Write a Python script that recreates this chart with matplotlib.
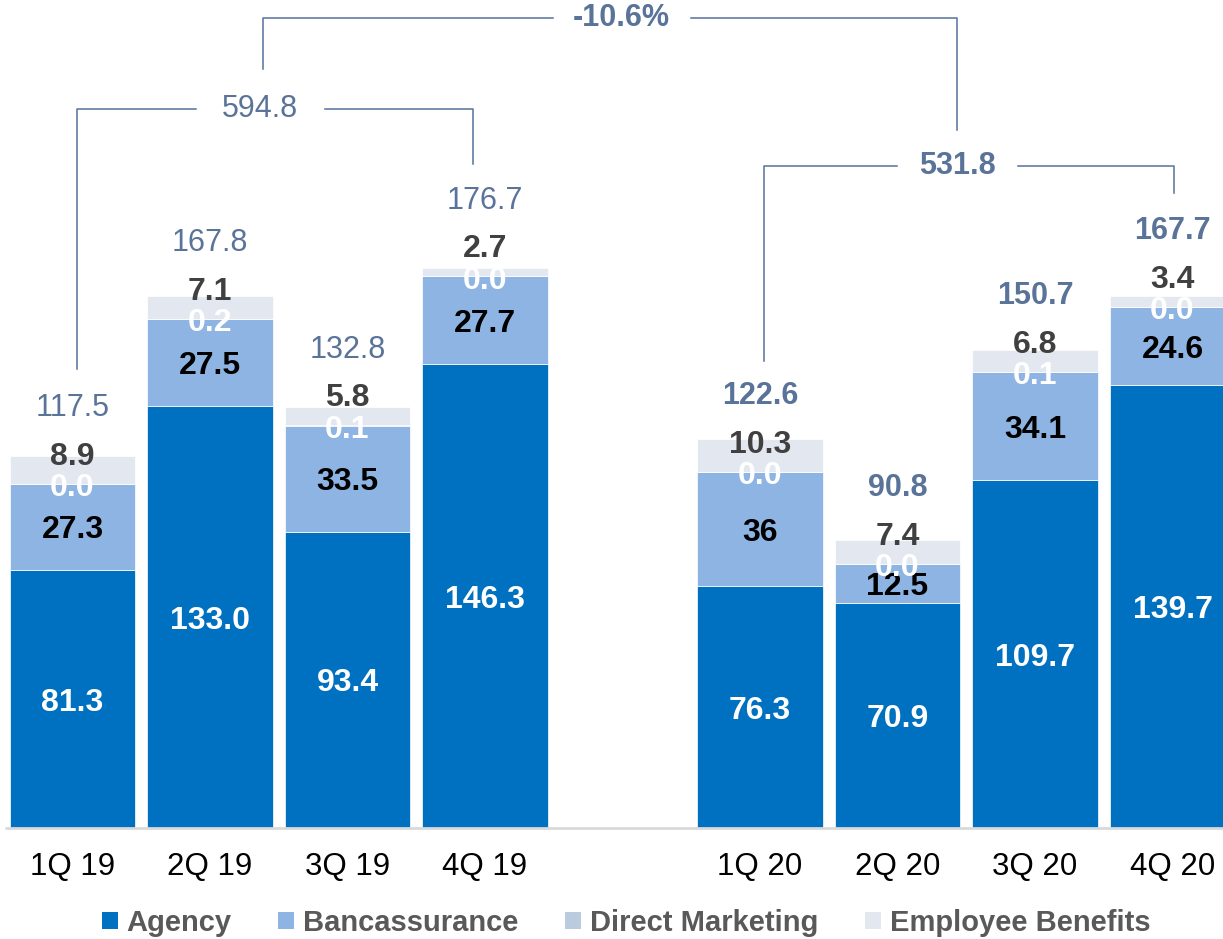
import numpy as np
import matplotlib
matplotlib.use('Agg')
import matplotlib.pyplot as plt
from matplotlib.patches import Patch

plt.rcParams['font.family'] = ['Liberation Sans', 'DejaVu Sans']

# quarterly premium by channel
quarters = ['1Q 19', '2Q 19', '3Q 19', '4Q 19', '1Q 20', '2Q 20', '3Q 20', '4Q 20']
agency = [81.3, 133.0, 93.4, 146.3, 76.3, 70.9, 109.7, 139.7]
banca = [27.3, 27.5, 33.5, 27.7, 36, 12.5, 34.1, 24.6]
direct = [0.0, 0.2, 0.1, 0.0, 0.0, 0.0, 0.1, 0.0]
employee = [8.9, 7.1, 5.8, 2.7, 10.3, 7.4, 6.8, 3.4]

channels = ['Agency', 'Bancassurance', 'Direct Marketing', 'Employee Benefits']
colors = ['#0070C0', '#8EB4E3', '#BACADF', '#E2E7F0']

xpos = np.array([0, 1, 2, 3, 5, 6, 7, 8])
a = np.array(agency)
b = np.array(banca)
d = np.array(direct)
e = np.array(employee)
totals = a + b + d + e
sum19 = totals[:4].sum()
sum20 = totals[4:].sum()
change = (sum20 / sum19 - 1) * 100

blue_txt = '#5A7399'
line_col = '#56729C'

fig = plt.figure(figsize=(12.23, 9.39), dpi=100)
ax = fig.add_axes([0, 111 / 939, 1, 828 / 939])
ax.set_xlim(-0.527, 8.367)
ax.set_ylim(0, 261.2)

w = 0.91
bottom = np.zeros(len(xpos))
for vals, c in zip([a, b, d, e], colors):
    ax.bar(xpos, vals, w, bottom=bottom, color=c, edgecolor='white', linewidth=0.5)
    bottom += vals

lbl = dict(textcoords='offset points', ha='center', va='center', fontsize=23, fontweight='bold')
for i, x in enumerate(xpos):
    ax.annotate(f'{a[i]:.1f}', (x, a[i] / 2), xytext=(0, -2.5), color='white', **lbl)
    ax.annotate(f'{b[i]:g}', (x, a[i] + b[i] / 2), xytext=(0, -2.5), color='black', **lbl)
    top_b = a[i] + b[i] + d[i]
    ax.annotate(f'{d[i]:.1f}', (x, top_b), xytext=(0, -3), color='white', **lbl)
    ax.annotate(f'{e[i]:.1f}', (x, top_b), xytext=(0, 19.5), color='#404040', **lbl)
    ax.annotate(f'{totals[i]:.1f}', (x, top_b), xytext=(0, 54.5), textcoords='offset points',
                ha='center', va='center', fontsize=22, color=blue_txt,
                fontweight='bold' if i >= 4 else 'normal')

# baseline
ax.hlines(0, -0.49, 8.4, color='#D9D9D9', lw=2, clip_on=False, zorder=3)


def bracket(x0, x1, y, yb0, yb1, gap, xt, text, bold):
    kw = dict(color=line_col, lw=1.1, clip_on=False)
    ax.plot([x0, x0, gap[0]], [yb0, y, y], **kw)
    ax.plot([gap[1], x1, x1], [y, y, yb1], **kw)
    ax.text(xt, y, text, ha='center', va='center', fontsize=22, color=blue_txt,
            fontweight='bold' if bold else 'normal')


bracket(0.033, 2.913, 226.8, 144.8, 209.5, (0.898, 1.836), 1.364, f'{sum19:.1f}', False)
bracket(5.029, 8.011, 208.8, 147.3, 200.3, (5.996, 6.876), 6.433, f'{sum20:.1f}', True)
bracket(1.385, 6.433, 255.5, 239.4, 220.2, (3.495, 4.498), 3.989, f'{change:.1f}%', True)

ax.set_xticks(xpos)
ax.set_xticklabels(quarters, fontsize=22.5)
ax.tick_params(axis='x', length=0, pad=17)
ax.set_yticks([])
for s in ax.spines.values():
    s.set_visible(False)

handles = [Patch(facecolor=c, edgecolor='none') for c in colors]
fig.legend(handles, channels, loc='center', bbox_to_anchor=(0.512, 1 - 923 / 939),
           ncol=4, frameon=False, handlelength=0.55, handleheight=0.55,
           handletextpad=0.3, columnspacing=1.6,
           prop={'size': 21, 'weight': 'bold'}, labelcolor='#595959')

fig.savefig('out.png', dpi=100)
